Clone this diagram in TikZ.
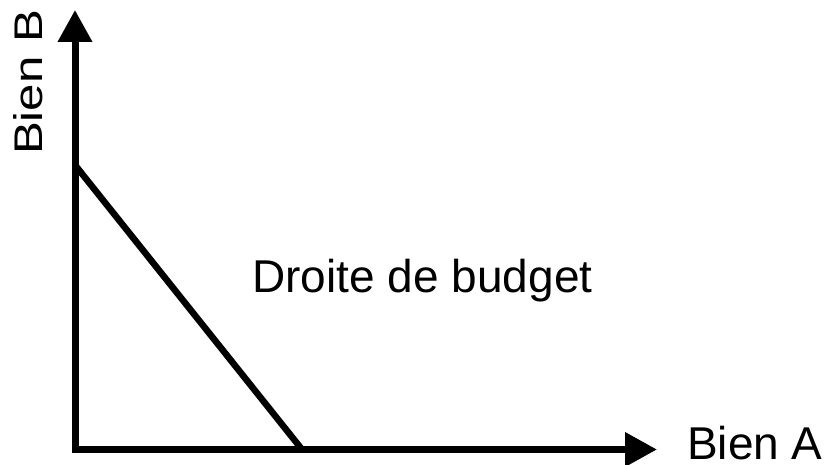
\documentclass[tikz,border=0pt]{standalone}
\usepackage{fontspec}
\setmainfont{Liberation Sans}
\usetikzlibrary{arrows.meta}
\begin{document}
\begin{tikzpicture}[x=1pt,y=1pt,
  axis/.style={line width=7pt,line join=miter,{Triangle[length=32pt,width=33pt]}-{Triangle[length=32pt,width=33pt]}},
  budget/.style={line width=6.5pt},
  lbl/.style={inner sep=0pt,font=\fontsize{46}{50}\selectfont}]
\useasboundingbox (0,0) rectangle (824,465);
\coordinate (O) at (75,15.5);
\coordinate (ytip) at (75,455);
\coordinate (xtip) at (657,15.5);
\coordinate (b1) at (75,300);
\coordinate (a1) at (302,15.5);
\draw[axis] (ytip) -- (O) -- (xtip);
\draw[budget] (b1) -- (a1);
\node[lbl,anchor=base] (droite) at (422.5,172) {Droite de budget};
\node[lbl,anchor=base west] (bienA) at (687,5.5) {Bien A};
\node[lbl,rotate=90,font=\fontsize{40}{44}\selectfont] (bienB) at (28,382.5) {\scalebox{1.23}[1]{Bien B}};
\end{tikzpicture}
\end{document}
